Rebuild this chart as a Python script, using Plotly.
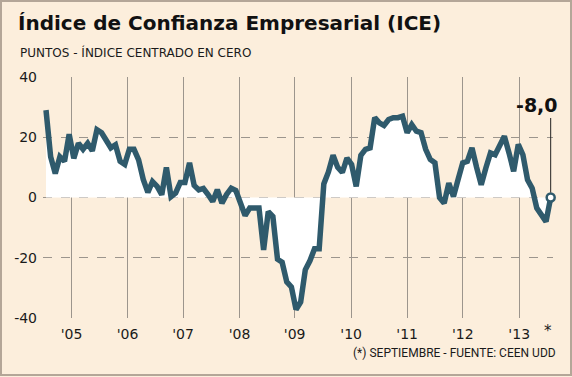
import plotly.graph_objects as go

# ---- data (monthly, Aug 2004 .. Sep 2013) ----
ice_values = [
    29, 13.5, 8, 13.5, 12, 21, 13, 18, 16, 18,
    15.5, 22.5, 21.5, 19, 16.5, 17.5, 12, 11, 16, 16,
    12.5, 6, 1.7, 5.3, 3.7, 0.9, 10, 0.3, 1.5, 5,
    5, 11.5, 4, 2.5, 3, 1, -1.3, 2.6, -1.9, 1,
    3.1, 2.3, -1.5, -6, -3.5, -3.5, -3.5, -17.4, -4.7, -6.3,
    -20.5, -21.5, -28, -29.7, -37.2, -34.7, -24, -21, -17, -17,
    4.5, 8.5, 14, 10, 8.3, 13.1, 11, 3.7, 14, 16,
    16.5, 26.5, 24.8, 23.9, 25.9, 26.5, 26.5, 27, 21.5, 24.2,
    22, 21.5, 16, 12.6, 11.5, 0, -1.9, 4.8, 0.3, 6,
    11.5, 12, 16.5, 10, 4.2, 9.8, 14.8, 14.2, 17, 20.3,
    14.8, 8.7, 17.6, 14.2, 5.9, 3.1, -3.5, -5.8, -8, 0,
]
month_index = list(range(len(ice_values)))

year_labels = ["'05", "'06", "'07", "'08", "'09", "'10", "'11", "'12", "'13"]
year_pos = [5.5, 17.6, 29.6, 41.8, 53.7, 65.9, 78.0, 90.0, 102.2]
y_ticks = [-40, -20, 0, 20, 40]

end_label = "-8,0"
title_text = "Índice de Confianza Empresarial (ICE)"
subtitle_text = "PUNTOS - ÍNDICE CENTRADO EN CERO"
footnote_text = "(*) SEPTIEMBRE - FUENTE: CEEN UDD"

# ---- styling ----
W, H = 572, 377
L, R, T, B = 43, 19, 77, 59
PW, PH = W - L - R, H - T - B
BG = "#FCEEDC"
LINE = "#2F5A6C"
GRID = "#9C958D"
TXT = "#1A1A1A"


def px_x(px):
    return (px - L) / PW


def px_y(py):
    return (H - B - py) / PH


xr = [-0.65, 109.5]
yr = [-40, 40]

fig = go.Figure()
fig.add_trace(go.Scatter(
    x=month_index, y=ice_values, mode="lines", fill="tozeroy",
    fillcolor="white", line=dict(width=0, color="white"),
    xaxis="x", yaxis="y", hoverinfo="skip", showlegend=False))
fig.add_trace(go.Scatter(
    x=month_index, y=ice_values, mode="lines",
    line=dict(width=5.5, color=LINE), cliponaxis=False,
    xaxis="x2", yaxis="y2", showlegend=False))
fig.add_trace(go.Scatter(
    x=[month_index[-1]], y=[ice_values[-1]], mode="markers",
    marker=dict(size=8, color="white", line=dict(width=2.5, color=LINE)),
    cliponaxis=False, xaxis="x2", yaxis="y2", showlegend=False))

fig.update_layout(
    width=W, height=H,
    margin=dict(l=L, r=R, t=T, b=B, autoexpand=False),
    paper_bgcolor=BG, plot_bgcolor="rgba(0,0,0,0)",
    font=dict(family="DejaVu Sans", color=TXT),
    xaxis=dict(range=xr, domain=[0, 1], anchor="y", tickmode="array",
               tickvals=year_pos, ticktext=year_labels, showgrid=True,
               gridcolor=GRID, gridwidth=1, zeroline=False, showline=False,
               ticks="", tickfont=dict(size=14, family="DejaVu Sans", color=TXT),
               ticklabelstandoff=6, fixedrange=True, automargin=False),
    yaxis=dict(range=yr, domain=[0, 1], anchor="x", tickmode="array",
               tickvals=y_ticks, ticktext=[str(v) for v in y_ticks],
               showgrid=True, gridcolor=GRID, gridwidth=1, griddash="dash",
               zeroline=False, showline=False, ticks="",
               tickfont=dict(size=14, family="DejaVu Sans", color=TXT),
               ticklabelstandoff=5, fixedrange=True, automargin=False),
    xaxis2=dict(range=xr, domain=[0, 1], anchor="y2", visible=False, fixedrange=True),
    yaxis2=dict(range=yr, domain=[0, 1], anchor="x2", visible=False, fixedrange=True),
    title=dict(text="<b>" + title_text + "</b>", xref="container", yref="container",
               x=18 / W, xanchor="left", y=1 - 23 / H, yanchor="middle",
               font=dict(size=20, family="DejaVu Sans", color="#111")),
    showlegend=False,
    hovermode=False,
)

fig.add_annotation(text=subtitle_text, xref="paper", yref="paper",
                   x=px_x(18), y=px_y(53), xanchor="left", yanchor="middle",
                   showarrow=False, font=dict(size=12, color=TXT))
fig.add_annotation(text=footnote_text, xref="paper", yref="paper",
                   x=px_x(558), y=px_y(353), xanchor="right", yanchor="middle",
                   showarrow=False,
                   font=dict(size=12, color=TXT, family="Roboto"))
fig.add_annotation(text="*", xref="x", yref="paper", x=108.4, y=px_y(331),
                   xanchor="center", yanchor="middle", showarrow=False,
                   font=dict(size=15, color=TXT))
# leader line and end label
fig.add_annotation(text="", x=month_index[-1], y=ice_values[-1], xref="x2", yref="y2",
                   ax=0, ay=-81, showarrow=True, arrowhead=0, arrowwidth=1,
                   arrowcolor="#222", standoff=5)
fig.add_annotation(text="<b>" + end_label + "</b>", x=month_index[-1], y=ice_values[-1],
                   xref="x2", yref="y2", showarrow=False, xshift=-14, yshift=93,
                   font=dict(size=19, color="#111"))

# outer frame
fig.add_shape(type="rect", xref="paper", yref="paper",
              x0=px_x(1), x1=px_x(571), y0=px_y(375), y1=px_y(1),
              line=dict(color="#B4A698", width=2), fillcolor="rgba(0,0,0,0)",
              layer="below")

fig.write_html("out.html", config={"displayModeBar": False, "staticPlot": True},
               post_script="document.body.style.margin='0';document.body.style.overflow='hidden';")
